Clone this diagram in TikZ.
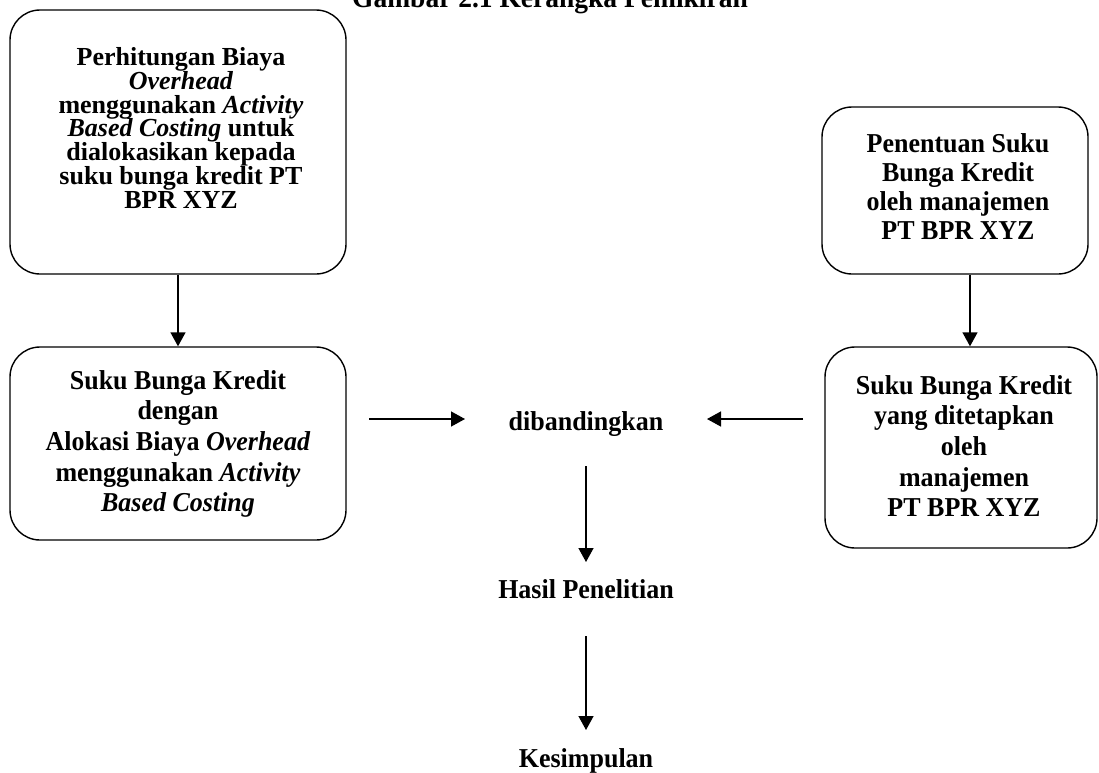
\documentclass[tikz,border=0pt]{standalone}
\usepackage{fontspec}
\setmainfont{Liberation Serif}
\usetikzlibrary{positioning,arrows.meta}
\setlength{\lineskiplimit}{-40pt}

\begin{document}
\begin{tikzpicture}[x=1pt,y=-1pt,
      kotak/.style={rounded corners=30pt, draw, line width=1.4pt, inner sep=0pt},
      teks/.style={align=center, inner sep=0pt, yscale=1.05,
                font=\fontsize{26}{#1}\selectfont\bfseries},
      teks/.default=29.2,
      panah/.style={-{Triangle[length=14pt,width=15pt]}, line width=1.4pt}]
    \useasboundingbox (0,0) rectangle (1099,772);
    \node[teks, font=\fontsize{27.5}{30}\selectfont\bfseries, anchor=base]
      (judul) at (550,7) {Gambar 2.1 Kerangka Pemikiran};

    % kotak kiri
    \node[kotak, minimum width=336pt, minimum height=264pt] (abc) at (178,142) {};
    \node[teks=23.9, yscale=1/1.05] (abcteks) at (181,128) {Perhitungan Biaya\\\textit{Overhead}\\
      menggunakan \textit{Activity}\\\textit{Based Costing} untuk\\dialokasikan kepada\\
      suku bunga kredit PT\\BPR XYZ};
    \node[kotak, minimum width=336pt, minimum height=193pt] (sbabc) at (178,443.5) {};
    \node[teks] (sbabcteks) at (178,444) {Suku Bunga Kredit\\dengan\\
      Alokasi Biaya \textit{Overhead}\\menggunakan \textit{Activity}\\\textit{Based Costing}};

    % kotak kanan
    \node[kotak, minimum width=266pt, minimum height=167pt] (penentuan) at (955,190.5) {};
    \node[teks=27.6] (penentuanteks) at (958,187) {Penentuan Suku\\Bunga Kredit\\
      oleh manajemen\\PT BPR XYZ};
    \node[kotak, minimum width=272pt, minimum height=201pt] (sbmgt) at (961,447.5) {};
    \node[teks] (sbmgtteks) at (964,446) {Suku Bunga Kredit\\yang ditetapkan\\oleh\\
      manajemen\\PT BPR XYZ};

    % tengah
    \node[teks, anchor=base] (banding) at (586,430) {dibandingkan};
    \node[teks, anchor=base] (hasil) at (586,598) {Hasil Penelitian};
    \node[teks, anchor=base] (simpul) at (586,767) {Kesimpulan};

    \coordinate (kiri) at (369,419);
    \coordinate (kanan) at (803,419);

    \draw[panah] (abc.south) -- (sbabc.north);
    \draw[panah] ([xshift=15pt]penentuan.south) -- ([xshift=15pt]penentuan.south |- sbmgt.north);
    \draw[panah] (kiri) -- (kiri -| 465,0);
    \draw[panah] (kanan) -- (kanan -| 707,0);
    \draw[panah] ([yshift=-36pt]banding.base) -- ([yshift=36pt]hasil.base);
    \draw[panah] ([yshift=-38pt]hasil.base) -- ([yshift=37pt]simpul.base);
  \end{tikzpicture}
\end{document}
